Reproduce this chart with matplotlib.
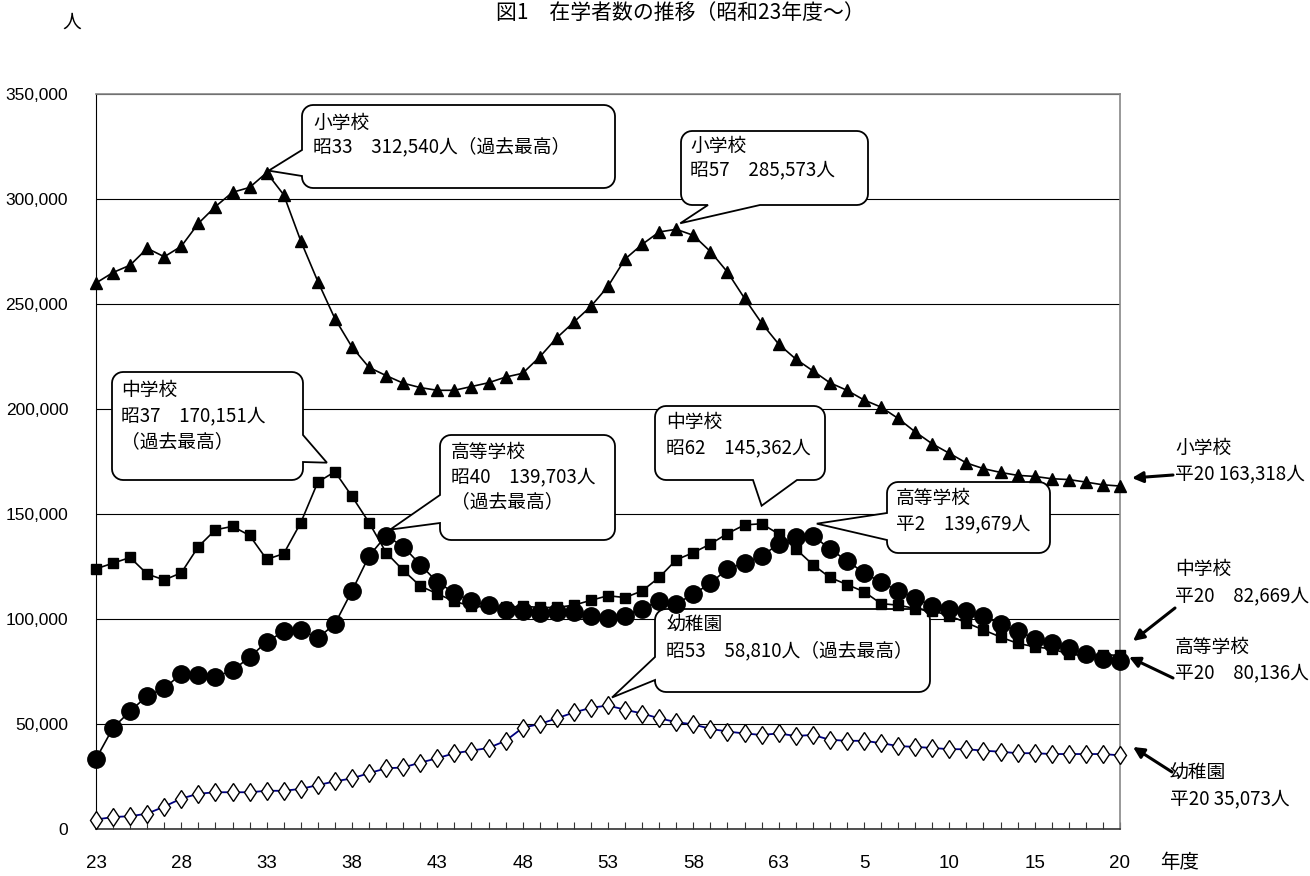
import matplotlib
matplotlib.use('Agg')
import matplotlib.pyplot as plt
from matplotlib import font_manager
from matplotlib.patches import Polygon
import numpy as np

# ---------------- data ----------------
years_showa = [str(y) for y in range(23, 64)]
years_heisei = [str(y) for y in range(1, 21)]
years = years_showa + years_heisei

elementary = [260000, 265000, 268500, 276500, 272500, 277500, 288400, 296400, 303200, 305500,
              312540, 302000, 280000, 260700, 243000, 229500, 219800, 215900, 212300, 210200,
              208900, 208900, 210700, 212500, 215200, 217000, 224800, 233900, 241400, 248900,
              258400, 271400, 278400, 284300, 285573, 282700, 275000, 265200, 252700, 240900,
              230900, 223800, 218200, 212500, 208900, 204300, 200900, 195500, 189100, 183400,
              178900, 174300, 171600, 169800, 168400, 167900, 166800, 166400, 165200, 163900,
              163318]
junior = [123900, 126600, 129300, 121400, 118600, 122000, 134500, 142500, 144100, 139800,
          128400, 131100, 145900, 165200, 170151, 158400, 145900, 131600, 123200, 115700,
          112000, 108400, 106100, 105700, 105500, 106100, 105500, 105500, 106600, 108900,
          111100, 110200, 113400, 119800, 128200, 131600, 135700, 140700, 144800, 145362,
          140500, 133400, 125900, 119800, 116400, 113000, 107300, 106600, 105000, 103900,
          101600, 98200, 94800, 91400, 88400, 86800, 85700, 83400, 82300, 83000,
          82669]
high = [33400, 48200, 56100, 63400, 67000, 73900, 73200, 72500, 75500, 81800,
        89100, 94100, 94800, 90900, 97700, 113400, 130000, 139703, 134500, 125900,
        117500, 112500, 108400, 106600, 104300, 103900, 102700, 103200, 103200, 101600,
        100500, 101600, 105000, 108400, 107300, 111800, 117000, 123900, 126600, 130000,
        135700, 138900, 139679, 133400, 127700, 122000, 117500, 113400, 110200, 106100,
        105000, 103900, 101600, 97500, 94300, 90700, 88400, 86100, 83400, 81100,
        80136]
kinder = [4500, 5700, 6100, 7300, 10700, 14500, 16800, 17500, 17500, 17500,
          18200, 18200, 19100, 20900, 22700, 24100, 26600, 28900, 29300, 31600,
          33700, 36100, 37300, 38600, 42000, 48200, 50000, 52700, 55500, 57700,
          58810, 56800, 55000, 52700, 50900, 49800, 47700, 46400, 45500, 44800,
          45500, 44300, 44800, 42500, 42000, 42000, 40900, 39500, 39100, 38600,
          38000, 38000, 37300, 36800, 36100, 36100, 35700, 35700, 35700, 35700,
          35073]

y_ticks = [0, 50000, 100000, 150000, 200000, 250000, 300000, 350000]

# ---------------- fonts ----------------
names = {f.name for f in font_manager.fontManager.ttflist}
JP = ['Noto Sans CJK JP', 'DejaVu Sans']
NUM = 'Liberation Sans' if 'Liberation Sans' in names else 'DejaVu Sans'
plt.rcParams['font.family'] = JP

W, H = 1310, 876
fig = plt.figure(figsize=(W / 100, H / 100), dpi=100)
ax = fig.add_axes([96 / W, 1 - 829 / H, (1120 - 96) / W, (829 - 94) / H])


def fx(px):
    return px / W


def fy(py):
    return 1 - py / H


x = np.arange(len(years))
ax.plot(x, elementary, '-', marker='^', color='black', ms=8.5, lw=1.2,
        clip_on=False, zorder=3)
ax.plot(x, junior, '-', marker='s', color='black', ms=7.5, lw=1.2,
        clip_on=False, zorder=3.1)
ax.plot(x, high, '-', marker='o', color='black', ms=12.5, lw=1.2,
        clip_on=False, zorder=3.2)
ax.plot(x, kinder, '-', marker='d', color='#000080', ms=9.5, lw=1.3,
        markerfacecolor='white', markeredgecolor='black', markeredgewidth=1.0,
        clip_on=False, zorder=3.3)

ax.set_xlim(0, len(years) - 1)
ax.set_ylim(0, 350000)
ax.set_yticks(y_ticks)
ax.set_yticklabels([f'{v:,}' for v in y_ticks], fontfamily=NUM, fontsize=12.5)
ax.tick_params(axis='y', length=0, pad=20)
ax.set_xticks(x)
ax.set_xticklabels([lab if i % 5 == 0 else '' for i, lab in enumerate(years)],
                   fontfamily=NUM, fontsize=13.5)
ax.tick_params(axis='x', direction='in', length=5, width=0.8, pad=19, color='#333333')
ax.yaxis.grid(True, color='black', lw=0.8)
ax.set_axisbelow(True)
for s in ['top', 'right']:
    ax.spines[s].set_color('#888888')
    ax.spines[s].set_linewidth(1.2)
ax.spines['left'].set_color('black')
ax.spines['bottom'].set_color('#333333')
ax.spines['bottom'].set_linewidth(1.2)

# ---------------- speech bubbles ----------------
def arc(cx, cy, r, a0, a1, n=8):
    t = np.radians(np.linspace(a0, a1, n))
    return [(cx + r * np.cos(a), cy + r * np.sin(a)) for a in t]


def bubble(box, side, base, tip_data, tip_off, lines, text_xy, spacing, r=11):
    x0, y0, x1, y1 = box
    tx, ty = ax.transData.transform(tip_data)
    tip = (tx + tip_off[0], (H - ty) + tip_off[1])
    b1, b2 = base
    pts = []
    pts += arc(x0 + r, y0 + r, r, 180, 270)
    if side == 'top':
        pts += [(b1, y0), tip, (b2, y0)]
    pts += arc(x1 - r, y0 + r, r, 270, 360)
    if side == 'right':
        pts += [(x1, b1), tip, (x1, b2)]
    pts += arc(x1 - r, y1 - r, r, 0, 90)
    if side == 'bottom':
        pts += [(b2, y1), tip, (b1, y1)]
    pts += arc(x0 + r, y1 - r, r, 90, 180)
    if side == 'left':
        pts += [(x0, b2), tip, (x0, b1)]
    poly = Polygon([(fx(a), fy(b)) for a, b in pts], closed=True,
                   transform=fig.transFigure, facecolor='white',
                   edgecolor='black', lw=1.3, zorder=1.5, clip_on=False)
    ax.add_patch(poly)
    for k, line in enumerate(lines):
        ax.text(fx(text_xy[0]), fy(text_xy[1] + k * spacing), line,
                transform=fig.transFigure, fontsize=13.5, ha='left',
                va='center', zorder=5, family=JP)


bubble((302, 105, 615, 188), 'left', (150, 176), (10, elementary[10]), (2, -2),
       ['小学校', '昭33　312,540人（過去最高）'], (313, 123), 24)
bubble((681, 131, 868, 205), 'bottom', (708, 760), (34, elementary[34]), (4, -6),
       ['小学校', '昭57　285,573人'], (690, 146), 24)
bubble((112, 372, 303, 480), 'right', (435, 462), (14, junior[14]), (-8, -9),
       ['中学校', '昭37　170,151人', '（過去最高）'], (121, 390), 26)
bubble((440, 435, 615, 540), 'left', (495, 523), (17, high[17]), (4, -6),
       ['高等学校', '昭40　139,703人', '（過去最高）'], (451, 452), 25)
bubble((655, 406, 825, 480), 'bottom', (753, 797), (39, junior[39]), (0, -18),
       ['中学校', '昭62　145,362人'], (666, 422), 26)
bubble((887, 482, 1050, 553), 'left', (513, 540), (42, high[42]), (4, -12),
       ['高等学校', '平2　139,679人'], (896, 498), 26)
bubble((655, 609, 930, 692), 'left', (657, 680), (30, kinder[30]), (4, -8),
       ['幼稚園', '昭53　58,810人（過去最高）'], (666, 624), 27)

# ---------------- right-hand labels ----------------
def side_label(lines, xy, spacing, tail, head):
    for k, line in enumerate(lines):
        fig.text(fx(xy[0]), fy(xy[1] + k * spacing), line, fontsize=13.5,
                 ha='left', va='center', family=JP)
    ax.annotate('', xy=(fx(head[0]), fy(head[1])), xycoords='figure fraction',
                xytext=(fx(tail[0]), fy(tail[1])), textcoords='figure fraction',
                arrowprops=dict(arrowstyle='-|>', color='black', lw=2.2,
                                mutation_scale=16, shrinkA=0, shrinkB=0),
                annotation_clip=False)


side_label(['小学校', '平20 163,318人'], (1175, 448), 26, (1173, 475), (1132, 478))
side_label(['中学校', '平20　82,669人'], (1175, 569), 27, (1175, 608), (1133, 641))
side_label(['高等学校', '平20　80,136人'], (1175, 647), 26, (1173, 678), (1129, 657))
side_label(['幼稚園', '平20 35,073人'], (1170, 772), 27, (1172, 772), (1133, 747))

# ---------------- other texts ----------------
fig.text(fx(1160), fy(862), '年度', fontsize=14, ha='left', va='center', family=JP)
fig.text(fx(62), fy(22), '人', fontsize=13.5, ha='left', va='center', family=JP)
fig.text(fx(680), fy(2), '図1　在学者数の推移（昭和23年度～）', fontsize=15,
         ha='center', va='top', family=JP)

fig.savefig('out.png', dpi=100)
